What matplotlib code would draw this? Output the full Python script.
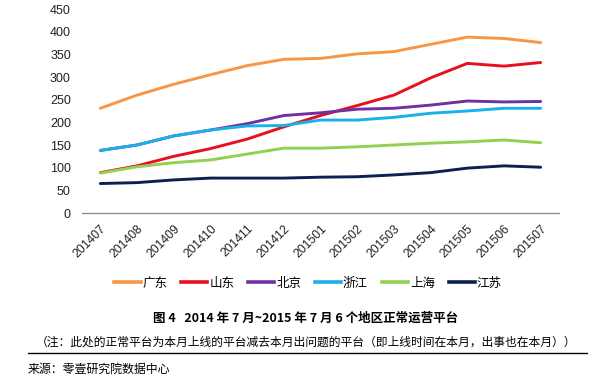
import matplotlib
matplotlib.use("Agg")
import matplotlib.pyplot as plt
from matplotlib.lines import Line2D

plt.rcParams['font.family'] = ['Noto Sans CJK SC', 'DejaVu Sans']

months = ["201407", "201408", "201409", "201410", "201411", "201412", "201501",
          "201502", "201503", "201504", "201505", "201506", "201507"]
guangdong = [231, 260, 284, 305, 325, 339, 341, 351, 356, 372, 388, 385, 376]
shandong = [89, 104, 125, 142, 163, 190, 215, 237, 260, 298, 330, 324, 332]
beijing = [138, 150, 170, 183, 197, 215, 221, 229, 231, 238, 247, 245, 246]
zhejiang = [138, 150, 170, 183, 192, 193, 205, 205, 211, 220, 225, 231, 231]
shanghai = [88, 102, 111, 117, 130, 143, 143, 146, 150, 154, 157, 161, 155]
jiangsu = [65, 67, 73, 77, 77, 77, 79, 80, 84, 89, 99, 104, 101]

names = ["广东", "山东", "北京", "浙江", "上海", "江苏"]
series = [guangdong, shandong, beijing, zhejiang, shanghai, jiangsu]
colors = ["#F79646", "#E8101E", "#7030A0", "#1AB0E8", "#92D050", "#0D2150"]

yticks = [0, 50, 100, 150, 200, 250, 300, 350, 400, 450]

fig = plt.figure(figsize=(6.12, 3.85), dpi=100)
ax = fig.add_axes([82/612, 172/385, (559-82)/612, (376-172)/385])

x = list(range(len(months)))
for vals, c in zip(series, colors):
    ax.plot(x, vals, color=c, lw=2.1, solid_capstyle='round', solid_joinstyle='round')

ax.set_xlim(-0.5, len(months) - 0.5)
ax.set_ylim(0, 450)
ax.set_yticks(yticks)
ax.set_yticklabels([str(v) for v in yticks], fontsize=9, color="#222222",
                   family=['Liberation Sans', 'DejaVu Sans'])
ax.set_xticks(x)
ax.set_xticklabels(months, rotation=45, ha='right', rotation_mode='anchor',
                   fontsize=8.8, color="#222222", family=['Liberation Sans', 'DejaVu Sans'])
ax.tick_params(axis='both', length=0)
ax.tick_params(axis='y', pad=8)
ax.tick_params(axis='x', pad=7)
for s in ['top', 'right', 'left']:
    ax.spines[s].set_visible(False)
ax.spines['bottom'].set_color('#888888')
ax.spines['bottom'].set_linewidth(0.9)

handles = [Line2D([0], [0], color=c, lw=2.6) for c in colors]
fig.legend(handles, names, loc='center', bbox_to_anchor=(308/612, 1 - 283/385),
           ncol=6, frameon=False, fontsize=9, handlelength=2.1, handletextpad=0.15,
           columnspacing=1.1)

fig.text(0.5, 1 - 318/385, "图 4   2014 年 7 月~2015 年 7 月 6 个地区正常运营平台",
         ha='center', va='center', fontsize=9, fontweight='bold')
fig.text(0.5, 1 - 342/385,
         "（注：此处的正常平台为本月上线的平台减去本月出问题的平台（即上线时间在本月，出事也在本月））",
         ha='center', va='center', fontsize=8.5)
fig.add_artist(Line2D([28/612, 587/612], [1 - 353/385, 1 - 353/385], color='black', lw=1.0))
fig.text(28/612, 1 - 369/385, "来源：零壹研究院数据中心", ha='left', va='center', fontsize=8.6)

fig.savefig("out.png", dpi=100)
